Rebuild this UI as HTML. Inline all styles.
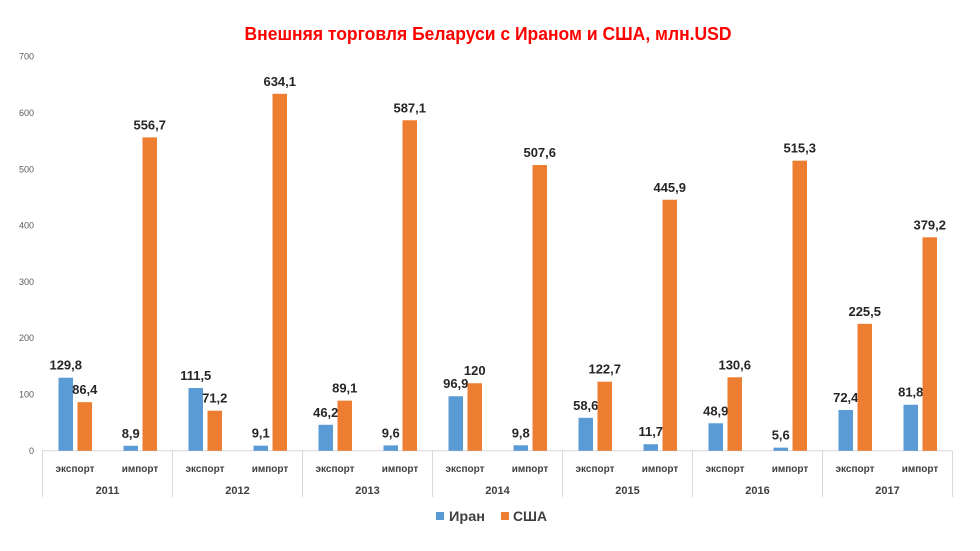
<!DOCTYPE html>
<html><head><meta charset="utf-8"><style>
body{margin:0;background:#fff}
svg{display:block;font-family:"Liberation Sans",sans-serif}
</style></head><body>
<svg id="c" width="980" height="551">
<text x="488" y="40" text-anchor="middle" fill="#ff0000" font-weight="bold" font-size="18" textLength="487" lengthAdjust="spacingAndGlyphs">Внешняя торговля Беларуси с Ираном и США, млн.USD</text>
<g id="plot"></g>
<g>
<rect x="436" y="512" width="8" height="8" fill="#5b9bd5"/>
<text x="449" y="521" font-size="14" font-weight="bold" fill="#404040" textLength="36" lengthAdjust="spacingAndGlyphs">Иран</text>
<rect x="501" y="512" width="8" height="8" fill="#ed7d31"/>
<text x="513" y="521" font-size="14" font-weight="bold" fill="#404040" textLength="34" lengthAdjust="spacingAndGlyphs">США</text>
</g>
</svg>
<script>
const years = ["2011","2012","2013","2014","2015","2016","2017"];
const subcats = ["экспорт","импорт"];
const iran = [129.8,8.9,111.5,9.1,46.2,9.6,96.9,9.8,58.6,11.7,48.9,5.6,72.4,81.8];
const usa = [86.4,556.7,71.2,634.1,89.1,587.1,120,507.6,122.7,445.9,130.6,515.3,225.5,379.2];
const yTicks = [0,100,200,300,400,500,600,700];

const NS="http://www.w3.org/2000/svg";
const g=document.getElementById('plot');
const x0=42.5, groupW=130, y0=450.8, yScale=(450.8-56.7)/700;
const y=v=>y0-v*yScale;
function mk(tag,attrs){const e=document.createElementNS(NS,tag);for(const k in attrs)e.setAttribute(k,attrs[k]);g.appendChild(e);return e;}
const fmt=v=>String(v).replace('.',',');

yTicks.forEach(t=>{
  const e=mk('text',{x:34,y:y(t)+3,'text-anchor':'end','font-size':'9',fill:'#595959'});
  e.textContent=t;
  
  
});
const ax=mk('line',{x1:x0,x2:x0+groupW*years.length,y1:y0,y2:y0,stroke:'#d9d9d9','stroke-width':1});


for(let i=0;i<=years.length;i++){
  const d=mk('line',{x1:x0+i*groupW,x2:x0+i*groupW,y1:y0,y2:497,stroke:'#d9d9d9','stroke-width':1});
  
  
}
years.forEach((yr,i)=>{
  const t=mk('text',{x:x0+i*groupW+groupW/2,y:494,'text-anchor':'middle','font-size':'11','font-weight':'bold',fill:'#404040'});
  t.textContent=yr;
  
  
  subcats.forEach((s,j)=>{
    const k=i*2+j, cx=x0+i*groupW+j*65+32.5;
    const st=mk('text',{x:cx,y:472,'text-anchor':'middle','font-size':'10','font-weight':'bold',fill:'#404040'});
    st.textContent=s;
    
    
    [[iran[k],'#5b9bd5',-16.5,'bar-iran'],[usa[k],'#ed7d31',2.5,'bar-usa']].forEach(([v,c,off,nm])=>{
      const r=mk('rect',{x:cx+off,y:y(v),width:14.5,height:v*yScale,fill:c});
      
      
      const l=mk('text',{x:cx+off+7.25,y:y(v)-8,'text-anchor':'middle','font-size':'13','font-weight':'bold',fill:'#262626'});
      l.textContent=fmt(v);
      
      
    });
  });
});
</script>
</body></html>
